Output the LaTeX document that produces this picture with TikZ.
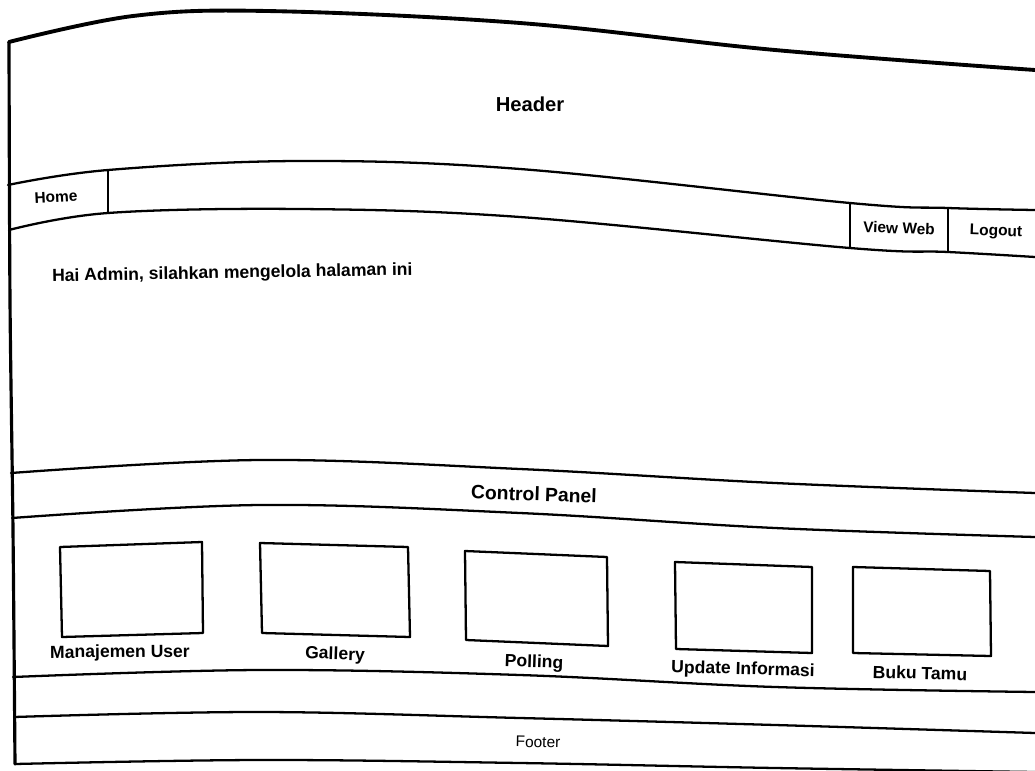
\documentclass[tikz,border=0pt]{standalone}
\usepackage{fontspec}
\setsansfont{Liberation Sans}

\tikzset{
  wire/.style={line width=1.3pt, line join=round, line cap=round},
  rim/.style={line width=2.2pt, line join=round, line cap=round},
  boxlabel/.style={font=\sffamily\bfseries\fontsize{10}{12}\selectfont},
  smalllabel/.style={font=\sffamily\bfseries\fontsize{8.8}{10}\selectfont},
}

\begin{document}
\begin{tikzpicture}[x=0.02cm, y=-0.02cm, font=\sffamily]
  \useasboundingbox (0,0) rectangle (1035,771);

  % Page frame (top edge and left edge)
  \draw[rim] plot[smooth, tension=0.6] coordinates {(9,42) (133,16) (267,11) (520,23) (775,50) (1035,70)};
  \draw[wire, line width=1.8pt] plot[smooth] coordinates {(9,42) (10,300) (13,530) (15,764)};

  % Header
  \node[font=\sffamily\bfseries\fontsize{11.5}{13}\selectfont] (header) at (530,104) {Header};

  % Menu bar
  \draw[wire] plot[smooth, tension=0.6] coordinates {(8,185) (108,170) (300,161) (520,169) (850,203) (948,208) (1035,210)};
  \draw[wire] plot[smooth, tension=0.6] coordinates {(9,230) (108,213) (300,209) (520,217) (850,248) (948,252) (1035,257)};
  \draw[wire] (108,170) -- (108,213);
  \draw[wire] (850,203) -- (850,248);
  \draw[wire] (948,208) -- (948,252);
  \node[smalllabel, rotate=3] (home) at (56,197) {Home};
  \node[smalllabel, rotate=-2] (viewweb) at (899,228) {View Web};
  \node[smalllabel, rotate=-2] (logout) at (996,232) {Logout};

  % Greeting
  \node[anchor=west, font=\sffamily\bfseries\fontsize{10}{12}\selectfont, rotate=1] (greet) at (46,277) {Hai Admin, silahkan mengelola halaman ini};

  % Control Panel bar
  \draw[wire] plot[smooth, tension=0.6] coordinates {(11,473) (260,460) (520,469) (775,483) (1035,493)};
  \draw[wire] plot[smooth, tension=0.6] coordinates {(12,518) (260,505) (520,513) (775,528) (1035,537)};
  \node[font=\sffamily\bfseries\fontsize{11}{13}\selectfont, rotate=-2] (cpanel) at (534,494) {Control Panel};

  % Menu tiles
  \draw[wire] (60,547) -- (202,542) -- (203,633) -- (62,637) -- cycle;
  \draw[wire] (260,543) -- (408,547) -- (410,637) -- (262,633) -- cycle;
  \draw[wire] (465,551) -- (607,557) -- (608,646) -- (466,640) -- cycle;
  \draw[wire] (675,562) -- (812,567) -- (812,653) -- (676,649) -- cycle;
  \draw[wire] (853,567) -- (990,571) -- (991,656) -- (853,653) -- cycle;
  \node[boxlabel, rotate=0.5] (mUser) at (120,653) {Manajemen User};
  \node[boxlabel, rotate=-2] (gallery) at (335,655) {Gallery};
  \node[boxlabel, rotate=-2] (polling) at (534,663) {Polling};
  \node[boxlabel, rotate=-1.5] (update) at (743,670) {Update Informasi};
  \node[boxlabel, rotate=-1.5] (bukutamu) at (920,673) {Buku Tamu};

  % Footer
  \draw[wire] plot[smooth, tension=0.6] coordinates {(13,677) (260,670) (520,675) (775,687) (1035,692)};
  \draw[wire] plot[smooth, tension=0.6] coordinates {(14,717) (260,712) (520,718) (775,725) (1035,733)};
  \draw[wire] plot[smooth, tension=0.6] coordinates {(15,764) (260,760) (520,763) (775,768) (1035,772)};
  \node[font=\sffamily\fontsize{8.8}{10}\selectfont, rotate=-1] (footer) at (538,742) {Footer};
\end{tikzpicture}
\end{document}
